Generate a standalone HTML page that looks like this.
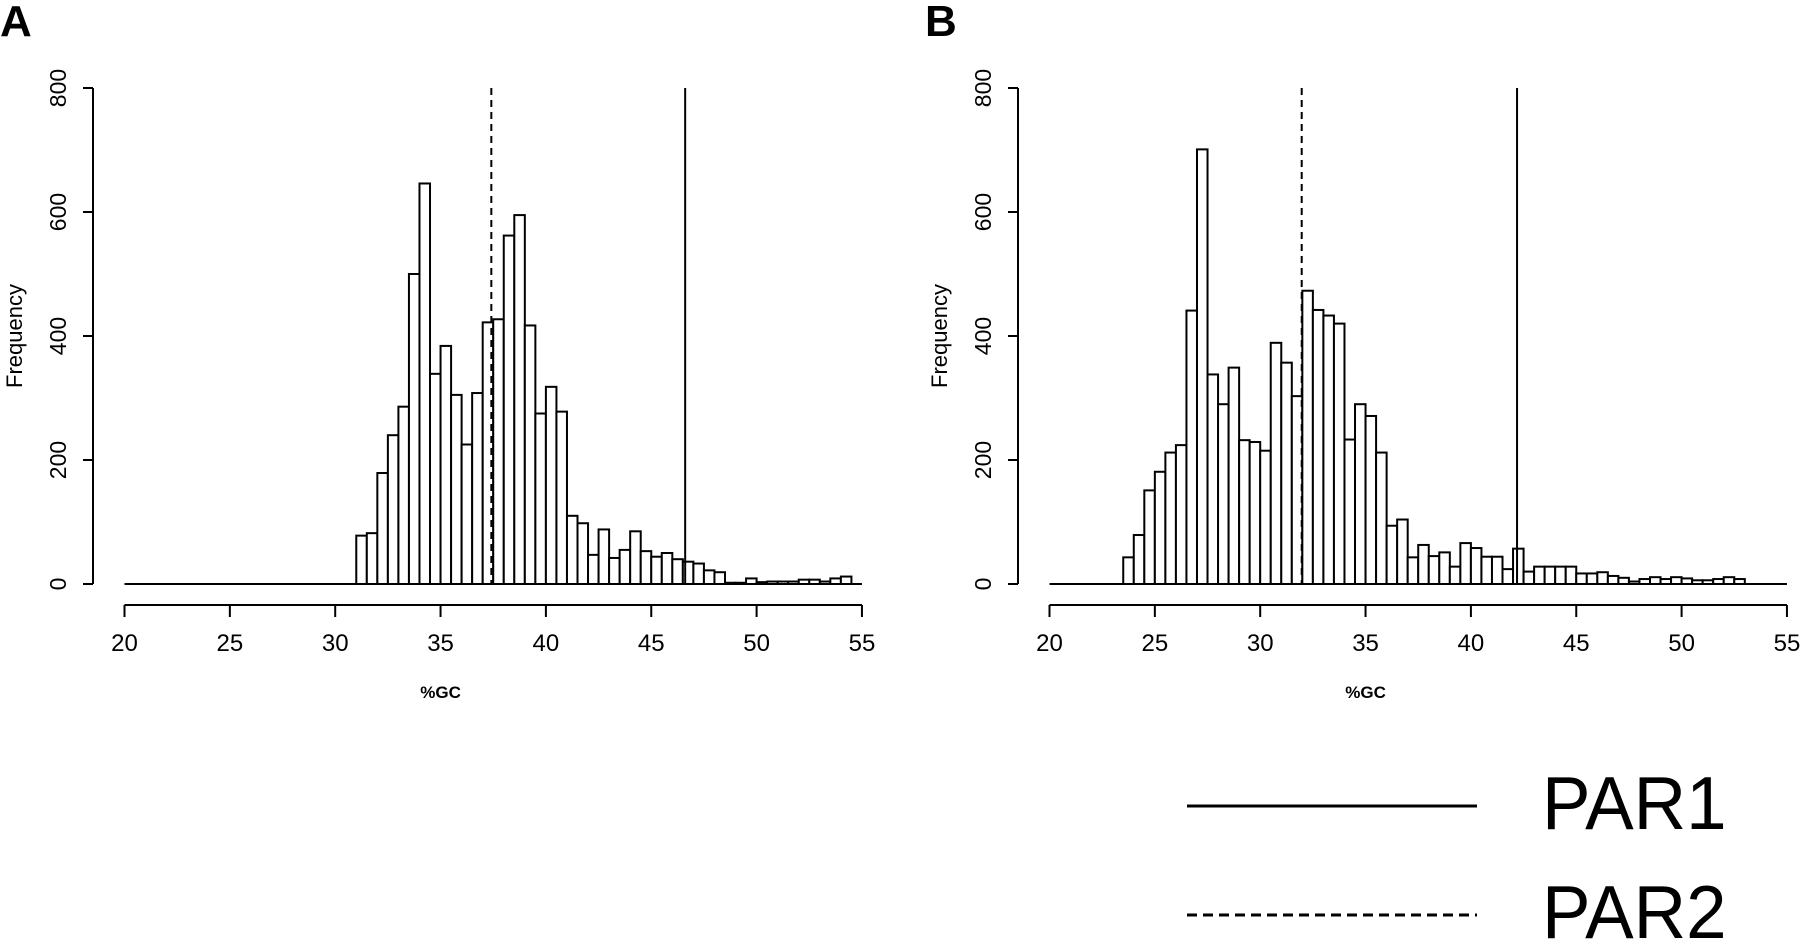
<!DOCTYPE html>
<html><head><meta charset="utf-8"><style>
html,body{margin:0;padding:0;background:#fff;width:1800px;height:949px;overflow:hidden}
svg text{font-family:"Liberation Sans",Arial,sans-serif;fill:#000}
</style></head><body>
<svg id="fig" width="1800" height="949" viewBox="0 0 1800 949" xmlns="http://www.w3.org/2000/svg">
<g id="panelA"></g>
<g id="panelB"></g>
<g>
  <line x1="1187" y1="806" x2="1477" y2="806" stroke="#000" stroke-width="3"/>
  <text x="1542" y="829" font-size="75" transform="translate(1542 829) scale(0.97 1) translate(-1542 -829)">PAR1</text>
  <line x1="1187" y1="915" x2="1477" y2="915" stroke="#000" stroke-width="3" stroke-dasharray="10 6"/>
  <text x="1542" y="938" font-size="75" transform="translate(1542 938) scale(0.97 1) translate(-1542 -938)">PAR2</text>
</g>
</svg>
<script>
const binWidth = 0.5;
const startA = 31.0;
const countsA = [78,82,179,240,286,500,646,339,384,305,225,308,422,427,562,595,417,275,318,278,110,98,47,88,42,55,85,53,44,50,40,36,33,22,19,2,2,9,3,4,4,4,7,7,4,9,12];
const par1A = 46.61;
const par2A = 37.41;
const startB = 23.5;
const countsB = [43,79,151,181,212,224,441,701,338,290,349,232,229,215,389,357,303,473,442,433,420,233,290,271,212,94,104,43,63,45,51,28,66,58,44,44,24,57,20,28,28,28,28,17,17,19,13,10,4,8,11,8,11,9,6,6,8,11,8];
const par1B = 42.19;
const par2B = 31.97;
const xTicks = [20,25,30,35,40,45,50,55];
const yTicks = [0,200,400,600,800];

const NS = "http://www.w3.org/2000/svg";
function mk(tag, attrs, parent){const e=document.createElementNS(NS,tag);for(const k in attrs)e.setAttribute(k,attrs[k]);parent.appendChild(e);return e;}

function drawPanel(g, letter, ox, start, counts, par1, par2){
  const x0 = ox + 124.5, ux = 21.07;
  const yBase = 584, uy = (584-88)/800;
  const X = v => x0 + (v-20)*ux;
  const Y = v => yBase - v*uy;
  let t = mk('text',{x:ox+0,y:36,'font-size':44,'font-weight':'bold'},g);
  t.textContent = letter;
  
  
  const yAxX = ox + 93;
  let l = mk('line',{x1:yAxX,y1:Y(800),x2:yAxX,y2:Y(0),stroke:'#000','stroke-width':2},g);
  
  
  yTicks.forEach(v=>{
    let tk = mk('line',{x1:yAxX-10,y1:Y(v),x2:yAxX,y2:Y(v),stroke:'#000','stroke-width':2},g);
    
    
    let tl = mk('text',{x:0,y:0,'font-size':23,'text-anchor':'middle',transform:`translate(${ox+66} ${Y(v)}) rotate(-90)`},g);
    tl.textContent = v;
    
    
  });
  let yt = mk('text',{x:0,y:0,'font-size':22,'text-anchor':'middle',transform:`translate(${ox+22} 336) rotate(-90)`},g);
  yt.textContent = 'Frequency';
  
  
  let xa = mk('line',{x1:X(20),y1:605,x2:X(55),y2:605,stroke:'#000','stroke-width':2},g);
  
  
  xTicks.forEach(v=>{
    let tk = mk('line',{x1:X(v),y1:605,x2:X(v),y2:617,stroke:'#000','stroke-width':2},g);
    
    
    let tl = mk('text',{x:X(v),y:651,'font-size':24,'text-anchor':'middle'},g);
    tl.textContent = v;
    
    
  });
  let xt = mk('text',{x:X(35),y:698,'font-size':17,'text-anchor':'middle','font-weight':'bold'},g);
  xt.textContent = '%GC';
  
  
  let bl = mk('line',{x1:X(20),y1:yBase,x2:X(55),y2:yBase,stroke:'#000','stroke-width':2},g);
  
  
  counts.forEach((c,i)=>{
    const a = start + i*binWidth;
    let r = mk('rect',{x:X(a),y:Y(c),width:binWidth*ux,height:c*uy,fill:'#fff',stroke:'#000','stroke-width':2},g);
    
    
  });
  let p1 = mk('line',{x1:X(par1),y1:Y(800),x2:X(par1),y2:yBase,stroke:'#000','stroke-width':2},g);
  
  
  let p2 = mk('line',{x1:X(par2),y1:Y(800),x2:X(par2),y2:yBase,stroke:'#000','stroke-width':2,'stroke-dasharray':'7 5'},g);
  
  
}
drawPanel(document.getElementById('panelA'),'A',0,startA,countsA,par1A,par2A);
drawPanel(document.getElementById('panelB'),'B',925,startB,countsB,par1B,par2B);
</script>
</body></html>
